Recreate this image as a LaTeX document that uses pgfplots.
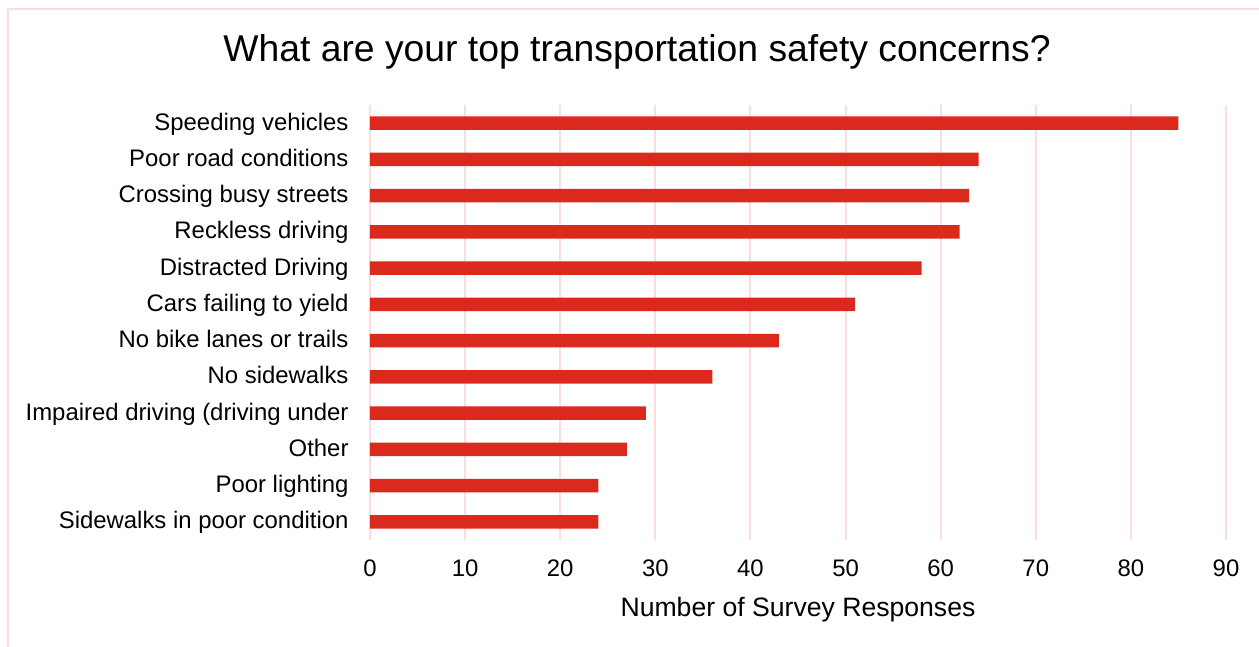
\documentclass[border=0pt]{standalone}
\usepackage{pgfplots}
\pgfplotsset{compat=1.18}
\usepackage{fontspec}
\setmainfont{Liberation Sans}
\definecolor{barred}{RGB}{220,41,30}
\definecolor{gridpink}{RGB}{250,222,220}
\begin{document}
\begin{tikzpicture}[x=1pt,y=1pt]
\useasboundingbox (0,0) rectangle (1259,647);
\draw[gridpink, line width=1.4pt] (8,0) -- (8,638) -- (1259,638);
\node[font=\fontsize{37.3}{44}\selectfont] at (637,595) {What are your top transportation safety concerns?};
\begin{axis}[
  at={(370pt,107pt)}, anchor=south west,
  scale only axis, width=856pt, height=435pt,
  xmin=0, xmax=90, ymin=-0.5, ymax=11.5,
  y dir=reverse,
  xtick={0,10,...,90},
  ytick={0,...,11},
  yticklabels={Speeding vehicles,Poor road conditions,Crossing busy streets,Reckless driving,Distracted Driving,Cars failing to yield,No bike lanes or trails,No sidewalks,Impaired driving (driving under,Other,Poor lighting,Sidewalks in poor condition},
  axis line style={draw=none},
  major tick length=0pt,
  xmajorgrids, grid style={gridpink, line width=2pt},
  ymajorgrids=false,
  tick label style={font=\fontsize{23.9}{28}\selectfont},
  /pgf/number format/assume math mode=true,
  xticklabel style={yshift=-16pt},
  yticklabel style={xshift=-18pt, text height=17pt, text depth=5pt, yshift=-1pt},
  xlabel={Number of Survey Responses},
  xlabel style={font=\fontsize{26.6}{30}\selectfont, yshift=-14pt},
]
\addplot[xbar, bar width=13.3pt, fill=barred, draw=none] coordinates {
(85,0) (64,1) (63,2) (62,3) (58,4) (51,5) (43,6) (36,7) (29,8) (27,9) (24,10) (24,11)
};
\end{axis}
\end{tikzpicture}
\end{document}
